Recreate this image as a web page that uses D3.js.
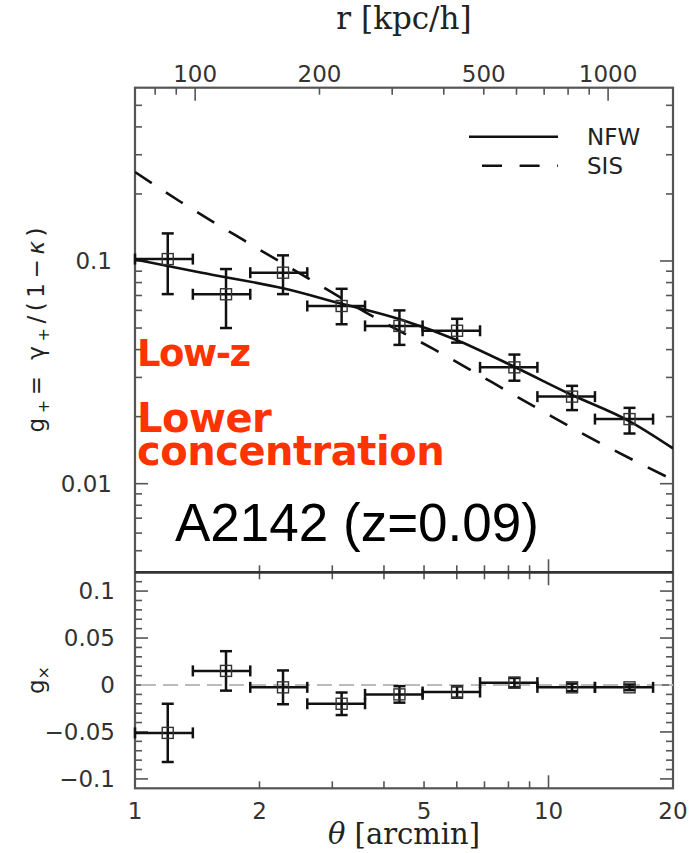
<!DOCTYPE html>
<html>
<head>
<meta charset="utf-8">
<script src="https://cdn.jsdelivr.net/npm/d3@7"></script>
<style>
  html, body { margin: 0; padding: 0; background: #fff; }
  svg { display: block; }
</style>
</head>
<body>
<script>
// binned shear profile
const thetaPts = [1.20, 1.66, 2.28, 3.16, 4.36, 6.01, 8.27, 11.4, 15.7];
const binLo    = [1.0, 1.38, 1.90, 2.61, 3.60, 4.96, 6.83, 9.40, 12.95];
const binHi    = [1.38, 1.90, 2.61, 3.60, 4.96, 6.83, 9.40, 12.95, 17.9];

const gPlus   = [0.102, 0.0709, 0.0886, 0.0628, 0.0511, 0.0486, 0.0333, 0.0246, 0.0195];
const gPlusHi = [0.133, 0.092, 0.106, 0.075, 0.060, 0.055, 0.038, 0.0275, 0.0219];
const gPlusLo = [0.071, 0.050, 0.071, 0.052, 0.042, 0.043, 0.029, 0.0214, 0.0168];

const gCross    = [-0.051, 0.015, -0.0025, -0.020, -0.010, -0.0075, 0.0025, -0.0025, -0.0025];
const gCrossErr = [0.031, 0.021, 0.018, 0.012, 0.0088, 0.006, 0.005, 0.004, 0.003];

// model curves, sampled from the figure
const nfwTheta = [1, 1.44, 2.28, 3.13, 4.37, 5.99, 8.26, 11.3, 15.75, 20];
const nfwG     = [0.1016, 0.0887, 0.0754, 0.0646, 0.0547, 0.0442, 0.0335, 0.0252, 0.0190, 0.0144];
const sisTheta = [1, 1.285, 1.845, 2.624, 3.77, 5.264, 9.36, 12.37, 20];
const sisG     = [0.251, 0.185, 0.123, 0.0836, 0.0562, 0.0403, 0.0219, 0.0164, 0.0104];

// tick labels
const xLabels    = [1, 2, 5, 10, 20];
const rLabels    = [100, 200, 500, 1000];
const yTopLabels = [0.1, 0.01];
const yBotLabels = [0.1, 0.05, 0, -0.05, -0.1];

const W = 689, H = 853;
const xL = 135, xR = 673;
const topY = 87.7, splitY = 572.3, botY = 788.3;
const MAJ = 13, MIN = 7;
const ink = "#111";
const frameCol = "#555";
const labFont = "DejaVu Sans, sans-serif";
const serifFont = "DejaVu Serif, serif";

const svg = d3.select("body").append("svg")
  .attr("width", W).attr("height", H)
  .attr("viewBox", [0, 0, W, H]);

const x    = d3.scaleLog().domain([1, 20]).range([xL, xR]);
const xr   = d3.scaleLog().domain([71.5, 1436]).range([xL, xR]);
const yTop = d3.scaleLog().domain([0.004, 0.6]).range([splitY, topY]);
const yBot = d3.scaleLinear().domain([-0.11, 0.12]).range([botY, splitY]);

const isDecade = (v) => Math.abs(Math.log10(v) - Math.round(Math.log10(v))) < 1e-6;
const inside = (sc) => (v) => {
  const p = sc(v), r = sc.range();
  return Math.abs(p - r[0]) > 1 && Math.abs(p - r[1]) > 1;
};

const defs = svg.append("defs");
defs.append("clipPath").attr("id", "clipTop")
  .append("rect").attr("x", xL).attr("y", topY).attr("width", xR - xL).attr("height", splitY - topY);

// ---- ticks ----
const gt = svg.append("g").attr("stroke", frameCol).attr("stroke-width", 1.6);

function hTicks(sc, vals, y0, dir, majorFn) {
  gt.append("g").selectAll("line").data(vals).join("line")
    .attr("x1", d => sc(d)).attr("x2", d => sc(d))
    .attr("y1", y0).attr("y2", d => y0 + dir * (majorFn(d) ? MAJ : MIN));
}
function vTicks(sc, vals, x0, dir, majorFn) {
  gt.append("g").selectAll("line").data(vals).join("line")
    .attr("y1", d => sc(d)).attr("y2", d => sc(d))
    .attr("x1", x0).attr("x2", d => x0 + dir * (majorFn(d) ? MAJ : MIN));
}

const xt = x.ticks().filter(inside(x));
const rt = xr.ticks().filter(inside(xr));
const ytt = yTop.ticks().filter(inside(yTop));
const ybt = d3.range(-11, 13).map(i => i / 100).filter(inside(yBot));
const botMajor = d => Math.abs(Math.round(d * 100) % 5) === 0;

hTicks(xr, rt, topY, 1, isDecade);
hTicks(x, xt, splitY, -1, isDecade);
hTicks(x, xt, splitY, 1, isDecade);
hTicks(x, xt, botY, -1, isDecade);
vTicks(yTop, ytt, xL, 1, isDecade);
vTicks(yTop, ytt, xR, -1, isDecade);
vTicks(yBot, ybt, xL, 1, botMajor);
vTicks(yBot, ybt, xR, -1, botMajor);

// ---- frames ----
svg.append("rect").attr("x", xL).attr("y", topY)
  .attr("width", xR - xL).attr("height", botY - topY)
  .attr("fill", "none").attr("stroke", frameCol).attr("stroke-width", 2.2);
svg.append("line").attr("x1", xL).attr("x2", xR).attr("y1", splitY).attr("y2", splitY)
  .attr("stroke", "#333").attr("stroke-width", 2.8);

// ---- model curves ----
const line = d3.line().x(d => x(d[0])).y(d => yTop(d[1])).curve(d3.curveMonotoneX);
const gc = svg.append("g").attr("clip-path", "url(#clipTop)")
  .attr("fill", "none").attr("stroke", ink).attr("stroke-width", 2.6);
gc.append("path").attr("d", line(d3.zip(nfwTheta, nfwG)));
gc.append("path").attr("d", line(d3.zip(sisTheta, sisG)))
  .attr("stroke-dasharray", "20,17");

// zero line in the lower panel
svg.append("line")
  .attr("x1", xL).attr("x2", xR).attr("y1", yBot(0)).attr("y2", yBot(0))
  .attr("stroke", "#bbb").attr("stroke-width", 2).attr("stroke-dasharray", "15,7")
  .attr("stroke-dashoffset", -6);

// ---- error bars + markers ----
function drawPoints(ys, lo, hi, yScale) {
  const g = svg.append("g").attr("stroke", ink).attr("stroke-width", 2.5).attr("fill", "none");
  const cw = 6, ch = 5.5, sq = 11;
  thetaPts.forEach((t, i) => {
    const cx = x(t), cy = yScale(ys[i]);
    const y1 = yScale(lo[i]), y2 = yScale(hi[i]);
    const xa = x(binLo[i]), xb = x(binHi[i]);
    g.append("line").attr("x1", cx).attr("x2", cx).attr("y1", y1).attr("y2", y2);
    g.append("line").attr("x1", cx - cw).attr("x2", cx + cw).attr("y1", y1).attr("y2", y1);
    g.append("line").attr("x1", cx - cw).attr("x2", cx + cw).attr("y1", y2).attr("y2", y2);
    g.append("line").attr("x1", xa).attr("x2", xb).attr("y1", cy).attr("y2", cy);
    g.append("line").attr("x1", xa).attr("x2", xa).attr("y1", cy - ch).attr("y2", cy + ch);
    g.append("line").attr("x1", xb).attr("x2", xb).attr("y1", cy - ch).attr("y2", cy + ch);
    g.append("rect").attr("x", cx - sq / 2).attr("y", cy - sq / 2)
      .attr("width", sq).attr("height", sq)
      .attr("stroke", "#333").attr("stroke-width", 1.4);
  });
}
drawPoints(gPlus, gPlusLo, gPlusHi, yTop);
drawPoints(gCross, gCross.map((v, i) => v - gCrossErr[i]), gCross.map((v, i) => v + gCrossErr[i]), yBot);

// ---- tick labels ----
const tl = svg.append("g").attr("font-family", labFont).attr("font-size", 23).attr("fill", "#333");
tl.selectAll(".xl").data(xLabels).join("text")
  .attr("x", d => x(d)).attr("y", 819).attr("text-anchor", "middle").text(d => d);
tl.selectAll(".rl").data(rLabels).join("text")
  .attr("x", d => xr(d)).attr("y", 81.5).attr("text-anchor", "middle").text(d => d);
tl.selectAll(".yt").data(yTopLabels).join("text")
  .attr("x", 112).attr("y", d => yTop(d) + 8.4).attr("text-anchor", "end").text(d => d);
tl.selectAll(".yb").data(yBotLabels).join("text")
  .attr("x", 115).attr("y", d => yBot(d) + 8.4).attr("text-anchor", "end")
  .text(d => d < 0 ? "\u2212" + Math.abs(d) : d);

// ---- axis titles ----
svg.append("text").attr("x", 404).attr("y", 28.5).attr("text-anchor", "middle")
  .attr("font-family", serifFont).attr("font-size", 31).attr("fill", "#222")
  .text("r [kpc/h]");
const xt2 = svg.append("text").attr("x", 404).attr("y", 844).attr("text-anchor", "middle")
  .attr("font-family", serifFont).attr("font-size", 29).attr("fill", "#222");
xt2.append("tspan").attr("font-style", "italic").text("\u03b8");
xt2.append("tspan").text(" [arcmin]");

const yl1 = svg.append("text").attr("transform", "translate(44,330) rotate(-90)")
  .attr("text-anchor", "middle").attr("font-family", labFont).attr("font-size", 23)
  .attr("fill", "#222").attr("textLength", 205).attr("lengthAdjust", "spacing");
yl1.append("tspan").text("g");
yl1.append("tspan").attr("font-size", 16).attr("dy", 5).text("+");
yl1.append("tspan").attr("dy", -5).text("= \u03b3");
yl1.append("tspan").attr("font-size", 16).attr("dy", 5).text("+");
yl1.append("tspan").attr("dy", -5).text("/(1\u2212");
yl1.append("tspan").attr("font-style", "italic").text("\u03ba");
yl1.append("tspan").text(")");

const yl2 = svg.append("text").attr("transform", "translate(44,680) rotate(-90)")
  .attr("text-anchor", "middle").attr("font-family", labFont).attr("font-size", 23)
  .attr("fill", "#222");
yl2.append("tspan").text("g");
yl2.append("tspan").attr("font-size", 16).attr("dy", 5).text("\u00d7");

// ---- legend ----
const lg = svg.append("g");
lg.append("line").attr("x1", 469).attr("x2", 558).attr("y1", 136.7).attr("y2", 136.7)
  .attr("stroke", ink).attr("stroke-width", 2.6);
lg.append("line").attr("x1", 482).attr("x2", 558).attr("y1", 165.7).attr("y2", 165.7)
  .attr("stroke", ink).attr("stroke-width", 2.6).attr("stroke-dasharray", "20,17.6");
lg.append("text").attr("x", 587).attr("y", 145.2).attr("font-family", labFont)
  .attr("font-size", 23).attr("fill", "#222").text("NFW");
lg.append("text").attr("x", 587).attr("y", 174.2).attr("font-family", labFont)
  .attr("font-size", 23).attr("fill", "#222").text("SIS");

// ---- annotations ----
const red = "#ff3300";
const ann = svg.append("g").attr("font-family", "DejaVu Sans, sans-serif")
  .attr("font-weight", "bold").attr("fill", red);
ann.append("text").attr("x", 137).attr("y", 366).attr("font-size", 37)
  .attr("letter-spacing", -1.5).text("Low-z");
ann.append("text").attr("x", 137).attr("y", 432).attr("font-size", 40)
  .attr("letter-spacing", -0.5).text("Lower");
ann.append("text").attr("x", 137).attr("y", 465).attr("font-size", 40)
  .attr("letter-spacing", -0.5).text("concentration");

svg.append("text").attr("x", 175).attr("y", 541)
  .attr("font-family", "Liberation Sans, Arial, sans-serif").attr("font-size", 53)
  .attr("fill", "#000").text("A2142 (z=0.09)");
</script>
</body>
</html>
